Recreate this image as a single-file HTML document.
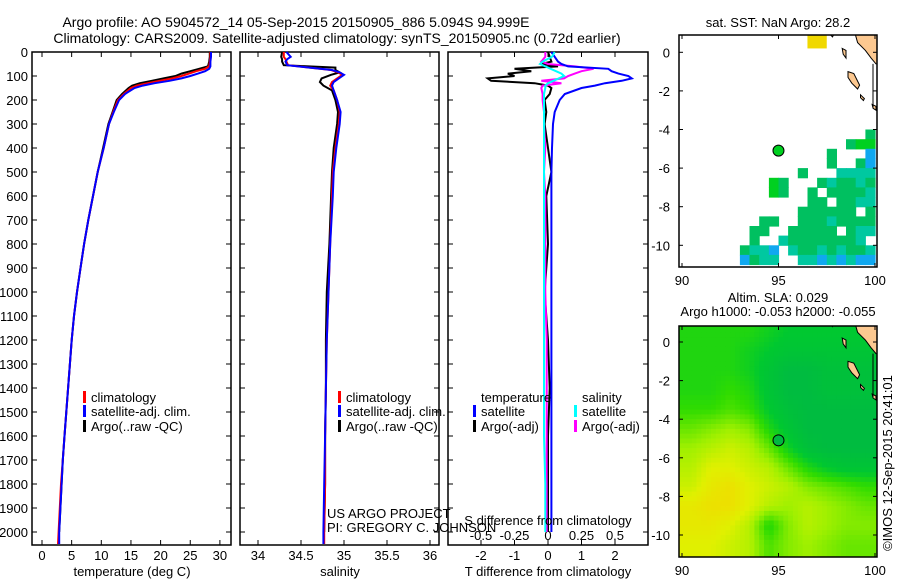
<!DOCTYPE html>
<html><head><meta charset="utf-8">
<style>
html,body{margin:0;padding:0;background:#fff;}
svg{display:block;font-family:"Liberation Sans",sans-serif;}
text{font-size:13px;fill:#000;}
</style></head>
<body>
<svg id="fig" width="900" height="580" viewBox="0 0 900 580" xmlns="http://www.w3.org/2000/svg">
<text x="296" y="27" text-anchor="middle" style="font-size:14px">Argo profile: AO 5904572_14 05-Sep-2015 20150905_886 5.094S 94.999E</text>
<text x="337" y="43" text-anchor="middle" style="font-size:14px">Climatology: CARS2009. Satellite-adjusted climatology: synTS_20150905.nc (0.72d earlier)</text>
<text x="778" y="27" text-anchor="middle">sat. SST: NaN Argo: 28.2</text>
<text x="778" y="302" text-anchor="middle">Altim. SLA: 0.029</text>
<text x="778" y="316" text-anchor="middle">Argo h1000: -0.053 h2000: -0.055</text>
<text transform="translate(892,463) rotate(-90)" text-anchor="middle">©IMOS 12-Sep-2015 20:41:01</text>
<g id="g"></g>
</svg>
<script>
// ---------- data ----------
const depthTicks = [0,100,200,300,400,500,600,700,800,900,1000,1100,1200,1300,1400,1500,1600,1700,1800,1900,2000];
const tDepth = [0,20,40,60,70,80,90,100,110,120,130,140,150,175,200,250,300,400,500,600,700,800,900,1000,1100,1200,1300,1400,1500,1600,1700,1800,1900,2000,2050];
const tClim  = [28.4,28.4,28.3,28.2,27.5,26,24.8,23.5,22,19.8,17.8,16,15,13.8,12.8,12,11.3,10.4,9.4,8.6,7.8,7.1,6.5,5.9,5.4,5.0,4.7,4.4,4.1,3.8,3.5,3.2,3.0,2.8,2.7];
const tSat   = [28.5,28.5,28.4,28.4,28.2,27.5,26.3,25,23.5,21.5,19,17,15.6,14,13,12.1,11.3,10.4,9.4,8.6,7.8,7.1,6.5,5.9,5.4,5.0,4.7,4.4,4.1,3.8,3.5,3.3,3.1,2.9,2.9];
const tArgo  = [28.3,28.3,28.2,28.0,26.5,25,23.5,22.5,20.5,18.5,16.5,15.2,14.6,13.5,12.6,11.9,11.2,10.3,9.4,8.6,7.8,7.1,6.5,5.9,5.4,5.0,4.7,4.4,4.1,3.8,3.5,3.3,3.1,2.9,null];
const tTicks = [0,5,10,15,20,25,30];

const sDepth = [0,20,30,40,55,65,75,85,95,110,125,140,160,200,250,300,400,500,600,800,1000,1200,1400,1600,1800,2000,2050];
const sClim  = [34.3,34.3,34.32,34.33,34.35,34.6,34.85,34.93,34.98,34.92,34.86,34.84,34.88,34.92,34.95,34.94,34.9,34.87,34.86,34.84,34.82,34.8,34.79,34.78,34.78,34.77,34.77];
const sSat   = [34.33,34.38,34.34,34.32,34.34,34.6,34.86,34.95,35.0,34.94,34.88,34.86,34.88,34.92,34.96,34.95,34.91,34.88,34.87,34.84,34.82,34.8,34.79,34.78,34.77,34.76,34.76];
const sArgo  = [34.28,34.27,34.28,34.28,34.3,34.9,34.9,34.95,34.85,34.74,34.72,34.76,34.86,34.9,34.93,34.92,34.88,34.86,34.85,34.83,34.8,34.79,34.79,34.78,34.78,34.77,null];
const sTicks = [34,34.5,35,35.5,36];

const dDepth = [0,20,40,50,60,70,80,90,100,110,120,130,140,150,175,200,250,300,400,500,600,800,1000,1200,1400,1600,1800,2000];
const dTsat  = [0.1,0.2,0.3,0.4,0.6,1.8,1.9,2.1,2.4,2.5,2.2,1.7,1.4,1.0,0.5,0.35,0.2,0.15,0.12,0.1,0.1,0.1,0.1,0.1,0.1,0.1,0.1,0.1];
const dTargo = [0,0.05,0.1,-0.2,0.3,-1.0,-0.5,-1.2,-1.0,-1.8,-1.7,-0.4,0,0.1,0.05,-0.1,-0.05,-0.1,0,0.1,-0.05,0,-0.1,0,0.05,0,0,0];
const dSsat  = [0.05,0.03,-0.04,-0.06,-0.02,0.02,0.06,0.1,0.12,0.08,0.04,0.0,-0.02,-0.02,-0.03,-0.03,-0.03,-0.03,-0.03,-0.03,-0.03,-0.03,-0.03,-0.03,-0.03,-0.03,-0.02,-0.02];
const dSargo = [-0.02,-0.02,-0.05,0.0,0.2,0.34,0.25,0.2,0.15,0.12,-0.05,0.1,-0.04,-0.05,-0.04,-0.04,-0.03,-0.03,-0.02,-0.03,-0.02,-0.02,-0.02,-0.01,-0.01,-0.01,-0.01,-0.01];
const dTTicks = [-2,-1,0,1,2];
const dSTicks = [-0.5,-0.25,0,0.25,0.5];
const dSLabels = ["-0.5","-0.25","0","0.25","0.5"];

const lonTicks = [90,95,100];
const latTicks = [0,-2,-4,-6,-8,-10];
// SLA grid, 1-degree cells, rows lat 0.5 .. -10.5, cols lon 90.5 .. 99.5 (0 = low, 1 = high)
const slaRows = [
 [0.4,0.4,0.4,0.4,0.35,0.3,0.3,0.3,0.3,0.3],
 [0.4,0.4,0.4,0.35,0.3,0.25,0.25,0.25,0.25,0.25],
 [0.4,0.4,0.4,0.35,0.25,0.15,0.15,0.2,0.2,0.2],
 [0.4,0.4,0.45,0.4,0.25,0.15,0.15,0.2,0.2,0.2],
 [0.45,0.45,0.5,0.45,0.3,0.2,0.15,0.15,0.15,0.15],
 [0.55,0.6,0.65,0.6,0.4,0.25,0.15,0.15,0.15,0.15],
 [0.65,0.7,0.75,0.7,0.55,0.35,0.2,0.15,0.15,0.15],
 [0.7,0.8,0.8,0.75,0.7,0.55,0.4,0.3,0.25,0.25],
 [0.75,0.85,0.9,0.8,0.75,0.7,0.6,0.55,0.5,0.45],
 [0.85,0.9,0.9,0.8,0.7,0.65,0.7,0.65,0.6,0.55],
 [0.85,0.85,0.8,0.7,0.4,0.6,0.7,0.65,0.6,0.6],
 [0.8,0.8,0.75,0.7,0.5,0.6,0.65,0.6,0.55,0.55]
];
// SST grid: 0.5-degree cells, rows lat -4..-11, cols lon 93..100. G bright green, g green, t teal, b blue
const sstRows = [
 ".............g",
 "...........gGG",
 ".........g...b",
 ".........g..gb",
 "......g...tttt",
 "...Gg...gtggtg",
 "...Gg..g.ggggt",
 ".......gg.ggtt",
 "......gggggg.g",
 "..gg..gggtgggg",
 ".gg..ggggg.gtt",
 ".g..tgggggggt.",
 "gttb.tggtgtggt",
 "bgtt..ttbtbtbb"
];

// ---------- helpers ----------
const NS = "http://www.w3.org/2000/svg";
const G = document.getElementById('g');
function el(tag, attrs, parent){
  const e = document.createElementNS(NS, tag);
  for (const k in attrs) e.setAttribute(k, attrs[k]);
  (parent||G).appendChild(e);
  return e;
}
function txt(x,y,s,anchor,parent){
  const t = el('text',{x:x,y:y,'text-anchor':anchor||'middle'},parent);
  t.textContent = s; return t;
}
const yTop = 52, yPerM = 0.24;
const yD = d => yTop + d*yPerM;
const PB = 545;

function panel(x0,x1,name){
  const r = el('rect',{x:x0,y:yTop,width:x1-x0,height:PB-yTop,fill:'none',stroke:'#000','stroke-width':1.5});
  
  
}
function line(xs, depths, xf, color, name, w){
  let d = '', pen = false;
  for (let i=0;i<depths.length;i++){
    if (xs[i]===null){ pen=false; continue; }
    d += (pen?'L':'M') + xf(xs[i]).toFixed(1) + ' ' + yD(depths[i]).toFixed(1) + ' ';
    pen = true;
  }
  const p = el('path',{d:d,fill:'none',stroke:color,'stroke-width':w||2,'stroke-linejoin':'miter'});
  
  
}
function xTicks(ticks, xf, labels, ly, name){
  ticks.forEach((v,i)=>{
    const x = xf(v);
    el('line',{x1:x,y1:PB,x2:x,y2:PB-5,stroke:'#000'});
    el('line',{x1:x,y1:yTop,x2:x,y2:yTop+5,stroke:'#000'});
    const t = txt(x, ly, labels ? labels[i] : String(v));
    
    
  });
}
function depthAxis(x0,x1,labels){
  depthTicks.forEach(d=>{
    const y = yD(d);
    el('line',{x1:x0,y1:y,x2:x0+5,y2:y,stroke:'#000'});
    el('line',{x1:x1,y1:y,x2:x1-5,y2:y,stroke:'#000'});
    if (labels){
      const t = txt(28, y+5, String(d), 'end');
      
      
    }
  });
}
function legendItem(x,y,color,label){
  const m = el('rect',{x:x,y:y-11,width:3,height:12,fill:color});
  
  
  const t = txt(x+8, y, label, 'start');
  
  
}

// ---------- panel 1: temperature ----------
const xT = v => 42 + v*5.93;
panel(32,231,'temperature-panel');
depthAxis(32,231,true);
xTicks(tTicks, xT, null, 560, 'temperature-tick-label');
line(tArgo, tDepth, xT, '#000', 'temperature-argo-line');
line(tClim, tDepth, xT, '#f00', 'temperature-climatology-line');
line(tSat, tDepth, xT, '#00f', 'temperature-satellite-line');
{ const t = txt(132,576,'temperature (deg C)');   }
legendItem(83,402,'#f00','climatology');
legendItem(83,416,'#00f','satellite-adj. clim.');
legendItem(83,431,'#000','Argo(..raw -QC)');

// ---------- panel 2: salinity ----------
const xS = v => 258 + (v-34)*86;
panel(240,439,'salinity-panel');
depthAxis(240,439,false);
xTicks(sTicks, xS, null, 560, 'salinity-tick-label');
line(sArgo, sDepth, xS, '#000', 'salinity-argo-line');
line(sClim, sDepth, xS, '#f00', 'salinity-climatology-line');
line(sSat, sDepth, xS, '#00f', 'salinity-satellite-line');
{ const t = txt(340,576,'salinity');   }
legendItem(338,402,'#f00','climatology');
legendItem(338,416,'#00f','satellite-adj. clim.');
legendItem(338,431,'#000','Argo(..raw -QC)');
{ const t = txt(327,518,'US ARGO PROJECT','start');   }
{ const t = txt(327,532,'PI: GREGORY C. JOHNSON','start');   }

// ---------- panel 3: differences ----------
const xDT = v => 548 + v*33.5;
const xDS = v => 548 + v*134;
panel(448,648,'difference-panel');
depthAxis(448,648,false);
xTicks(dTTicks, xDT, null, 560, 'tdiff-tick-label');
dSTicks.forEach((v,i)=>{
  const t = txt(xDS(v), 540, dSLabels[i]);
  
  
});
line(dTargo, dDepth, xDT, '#000', 'tdiff-argo-line');
line(dSargo, dDepth, xDS, '#f0f', 'sdiff-argo-line');
line(dTsat, dDepth, xDT, '#00f', 'tdiff-satellite-line');
line(dSsat, dDepth, xDS, '#0ff', 'sdiff-satellite-line');
{ const t = txt(548,525,'S difference from climatology');   }
{ const t = txt(548,576,'T difference from climatology');   }
{ const t = txt(481,402,'temperature','start');   }
{ const t = txt(582,402,'salinity','start');   }
legendItem(473,416,'#00f','satellite');
legendItem(473,431,'#000','Argo(-adj)');
legendItem(574,416,'#0ff','satellite');
legendItem(574,431,'#f0f','Argo(-adj)');

// ---------- maps ----------
const MX0 = 679, MX1 = 877, PXD = 19.3;
const lonX = lon => 682 + (lon-90)*PXD;
const stops = [[0,[0,176,80]],[0.3,[0,200,48]],[0.45,[48,220,0]],[0.65,[160,240,0]],[0.8,[224,240,0]],[1,[248,208,0]]];
function cmap(v){
  for (let i=1;i<stops.length;i++){
    if (v<=stops[i][0]){
      const a=stops[i-1], b=stops[i], f=(v-a[0])/(b[0]-a[0]);
      const c=a[1].map((x,k)=>Math.round(x+(b[1][k]-x)*f));
      return 'rgb('+c.join(',')+')';
    }
  }
  return 'rgb(248,208,0)';
}
function slaAt(lon, lat){
  // bilinear sample of slaRows (cell centers at lon 90.5+c, lat 0.5-r)
  let c = lon-90.5, r = 0.5-lat;
  c = Math.max(0, Math.min(slaRows[0].length-1.0001, c));
  r = Math.max(0, Math.min(slaRows.length-1.0001, r));
  const c0=Math.floor(c), r0=Math.floor(r), fc=c-c0, fr=r-r0;
  const a=slaRows[r0][c0], b=slaRows[r0][c0+1], d=slaRows[r0+1][c0], e=slaRows[r0+1][c0+1];
  return (a*(1-fc)+b*fc)*(1-fr) + (d*(1-fc)+e*fc)*fr;
}
const sstColors = {G:'#00d020', g:'#00c060', t:'#00c8a0', b:'#10a8f0'};

function map(top, bottom, lat0y, name, drawData){
  const latY = lat => lat0y - lat*PXD;
  const clip = 'clip-'+name;
  const cp = el('clipPath',{id:clip});
  el('rect',{x:MX0,y:top,width:MX1-MX0,height:bottom-top},cp);
  const grp = el('g',{'clip-path':'url(#'+clip+')'});
  
  
  drawData(grp, latY);
  const land = [[[98.9,1.2],[99.1,0.5],[99.5,0.1],[99.8,-0.3],[100.05,-0.6],[100.3,-0.6],[100.3,1.2]],
                [[98.6,-1.0],[98.9,-1.1],[99.2,-1.7],[99.1,-1.9],[98.8,-1.6],[98.6,-1.3]],
                [[99.25,-2.2],[99.45,-2.4],[99.4,-2.5],[99.25,-2.35]],
                [[99.85,-2.7],[100.05,-2.8],[100.05,-3.0],[99.9,-2.9]],
                [[97.6,1.0],[97.9,1.0],[97.8,0.8]],
                [[98.3,0.2],[98.5,0.1],[98.5,-0.3],[98.35,-0.1]]];
  land.forEach(poly=>{
    const pts = poly.map(p=>lonX(p[0]).toFixed(1)+','+latY(p[1]).toFixed(1)).join(' ');
    const p = el('polygon',{points:pts,fill:'#fcc890',stroke:'#000','stroke-width':1},grp);
    
    
  });
  el('line',{x1:lonX(100)-2,y1:latY(-0.6),x2:lonX(100)-2,y2:latY(-2.9),stroke:'#000','stroke-width':1},grp);
  const c = el('circle',{cx:lonX(94.999),cy:latY(-5.094),r:5.5,fill:name==='sst-map'?'#00d020':'#00b840',stroke:'#000','stroke-width':1});
  
  
  const fr = el('rect',{x:MX0,y:top,width:MX1-MX0,height:bottom-top,fill:'none',stroke:'#000','stroke-width':1.5});
  
  
  lonTicks.forEach(v=>{
    const x = lonX(v);
    el('line',{x1:x,y1:bottom,x2:x,y2:bottom-4,stroke:'#000'});
    el('line',{x1:x,y1:top,x2:x,y2:top+4,stroke:'#000'});
    const t = txt(x, bottom+18, String(v));
    
    
  });
  latTicks.forEach(v=>{
    const y = latY(v);
    el('line',{x1:MX0,y1:y,x2:MX0+4,y2:y,stroke:'#000'});
    el('line',{x1:MX1,y1:y,x2:MX1-4,y2:y,stroke:'#000'});
    const t = txt(670, y+5, String(v), 'end');
    
    
  });
}

map(35, 267, 52.3, 'sst-map', (grp, latY)=>{
  const y = el('rect',{x:lonX(96.5),y:latY(0.9),width:PXD,height:0.7*PXD,fill:'#f0d800'},grp);
  
  
  sstRows.forEach((row,r)=>{
    for (let c=0;c<row.length;c++){
      const ch = row[c];
      if (ch==='.') continue;
      const cell = el('rect',{x:lonX(93+c*0.5).toFixed(1),y:latY(-4-r*0.5).toFixed(1),width:(PXD*0.5+0.5).toFixed(1),height:(PXD*0.5+0.5).toFixed(1),fill:sstColors[ch]},grp);
      
      
    }
  });
});

map(326, 557, 342, 'sla-map', (grp, latY)=>{
  const step = 0.25;
  for (let lat=1.0; lat>-11.3; lat-=step){
    for (let lon=89.75; lon<100.25; lon+=step){
      const v = slaAt(lon+step/2, lat-step/2);
      const cell = el('rect',{x:lonX(lon).toFixed(1),y:latY(lat).toFixed(1),width:(PXD*step+0.6).toFixed(1),height:(PXD*step+0.6).toFixed(1),fill:cmap(v)},grp);
      
      
    }
  }
});
</script>
</body></html>
